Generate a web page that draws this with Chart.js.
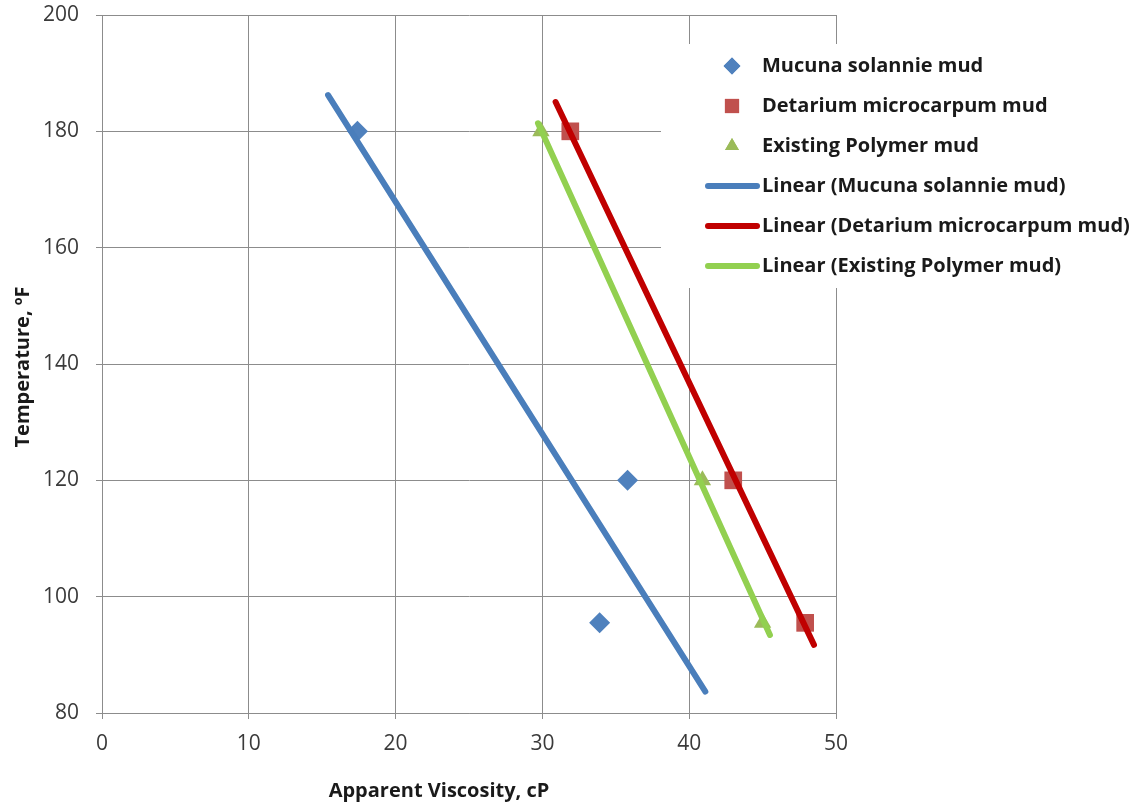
<!DOCTYPE html>
<html>
<head>
<meta charset="utf-8">
<script src="https://cdn.jsdelivr.net/npm/chart.js@4"></script>
<style>
  html, body { margin: 0; padding: 0; background: #fff; }
  #wrap { width: 1143px; height: 805px; }
</style>
</head>
<body>
<div id="wrap"><canvas id="chart"></canvas></div>
<script>
// values
const seriesNames = ['Mucuna solannie mud', 'Detarium microcarpum mud', 'Existing Polymer mud'];
const mucunaVisc = [17.4, 35.8, 33.9];
const mucunaTemp = [180, 120, 95.5];
const detariumVisc = [31.9, 43.0, 47.9];
const detariumTemp = [180, 120, 95.5];
const polymerVisc = [29.9, 40.9, 45.0];
const polymerTemp = [180, 120, 95.5];
// x range each trendline is drawn over
const trendStart = [15.4, 30.9, 29.7];
const trendEnd = [41.1, 48.5, 45.5];
const xTicks = [0, 10, 20, 30, 40, 50];
const yTicks = [80, 100, 120, 140, 160, 180, 200];

const markerColors = ['#4f81bd', '#c0504d', '#9bbb59'];
const lineColors = ['#4a7ebb', '#c00000', '#92d050'];
const markerStyles = ['rectRot', 'rect', 'triangle'];
const markerSizes = [10.5, 12.5, 10];

function linearFit(xs, ys) {
  const n = xs.length;
  const mx = xs.reduce((a, b) => a + b, 0) / n;
  const my = ys.reduce((a, b) => a + b, 0) / n;
  let sxy = 0, sxx = 0;
  for (let i = 0; i < n; i++) {
    sxy += (xs[i] - mx) * (ys[i] - my);
    sxx += (xs[i] - mx) * (xs[i] - mx);
  }
  const slope = sxy / sxx;
  return { slope: slope, icpt: my - slope * mx };
}

const series = [[mucunaVisc, mucunaTemp], [detariumVisc, detariumTemp], [polymerVisc, polymerTemp]];

const datasets = [];
series.forEach(function(s, i) {
  datasets.push({
    label: seriesNames[i],
    data: s[0].map((x, j) => ({ x: x, y: s[1][j] })),
    pointStyle: markerStyles[i],
    pointRadius: markerSizes[i],
    pointHoverRadius: markerSizes[i],
    backgroundColor: markerColors[i],
    borderWidth: 0,
    showLine: false,
    order: 2
  });
});
series.forEach(function(s, i) {
  const f = linearFit(s[0], s[1]);
  datasets.push({
    label: 'Linear (' + seriesNames[i] + ')',
    data: [
      { x: trendStart[i], y: f.icpt + f.slope * trendStart[i] },
      { x: trendEnd[i], y: f.icpt + f.slope * trendEnd[i] }
    ],
    showLine: true,
    borderColor: lineColors[i],
    borderWidth: 6,
    borderCapStyle: 'round',
    pointRadius: 0,
    pointHoverRadius: 0,
    order: 1
  });
});

// legend box and axis titles, Excel style
const excelBits = {
  id: 'excelBits',
  afterDraw(chart) {
    const ctx = chart.ctx;
    ctx.save();
    ctx.fillStyle = '#fff';
    ctx.fillRect(661, 44, 482, 244);

    ctx.font = 'bold 20px "Open Sans"';
    ctx.textBaseline = 'middle';
    ctx.textAlign = 'left';
    chart.data.datasets.forEach(function(ds, i) {
      const y = 66 + i * 40;
      if (ds.showLine) {
        ctx.strokeStyle = ds.borderColor;
        ctx.lineWidth = 6;
        ctx.lineCap = 'round';
        ctx.beginPath();
        ctx.moveTo(708, y);
        ctx.lineTo(757, y);
        ctx.stroke();
      } else {
        ctx.fillStyle = ds.backgroundColor;
        Chart.helpers.drawPoint(ctx, { pointStyle: ds.pointStyle, radius: ds.pointRadius * 0.8, borderWidth: 0 }, 732, y);
        ctx.fill();
      }
      ctx.fillStyle = '#1a1a1a';
      ctx.fillText(ds.label, 762, y);
    });

    ctx.fillStyle = '#1a1a1a';
    ctx.textAlign = 'center';
    ctx.fillText('Apparent Viscosity, cP', 439, 791);
    ctx.translate(23, 367);
    ctx.rotate(-Math.PI / 2);
    ctx.fillText('Temperature, \u00baF', 0, 0);
    ctx.restore();
  }
};

const gridColor = '#8c8c8c';
const tickFont = { family: 'Open Sans', size: 21 };

new Chart(document.getElementById('chart'), {
  type: 'scatter',
  data: { datasets: datasets },
  options: {
    responsive: true,
    maintainAspectRatio: false,
    animation: false,
    layout: { padding: { top: 15, right: 307, left: 0, bottom: 0 } },
    scales: {
      x: {
        type: 'linear',
        min: xTicks[0],
        max: xTicks[xTicks.length - 1],
        afterBuildTicks: (s) => { s.ticks = xTicks.map(v => ({ value: v })); },
        afterFit: (s) => { s.height = 92; s.paddingLeft = 0; s.paddingRight = 0; },
        ticks: { color: '#3a3a3a', font: tickFont, padding: 12 },
        grid: { color: gridColor, lineWidth: 1, tickLength: 6 },
        border: { color: gridColor }
      },
      y: {
        type: 'linear',
        min: yTicks[0],
        max: yTicks[yTicks.length - 1],
        afterBuildTicks: (s) => { s.ticks = yTicks.map(v => ({ value: v })); },
        afterFit: (s) => { s.width = 102; s.paddingTop = 0; s.paddingBottom = 0; },
        ticks: { color: '#3a3a3a', font: tickFont, padding: 17 },
        grid: { color: gridColor, lineWidth: 1, tickLength: 6 },
        border: { color: gridColor }
      }
    },
    plugins: {
      legend: { display: false },
      tooltip: { enabled: false }
    }
  },
  plugins: [excelBits]
});
</script>
</body>
</html>
